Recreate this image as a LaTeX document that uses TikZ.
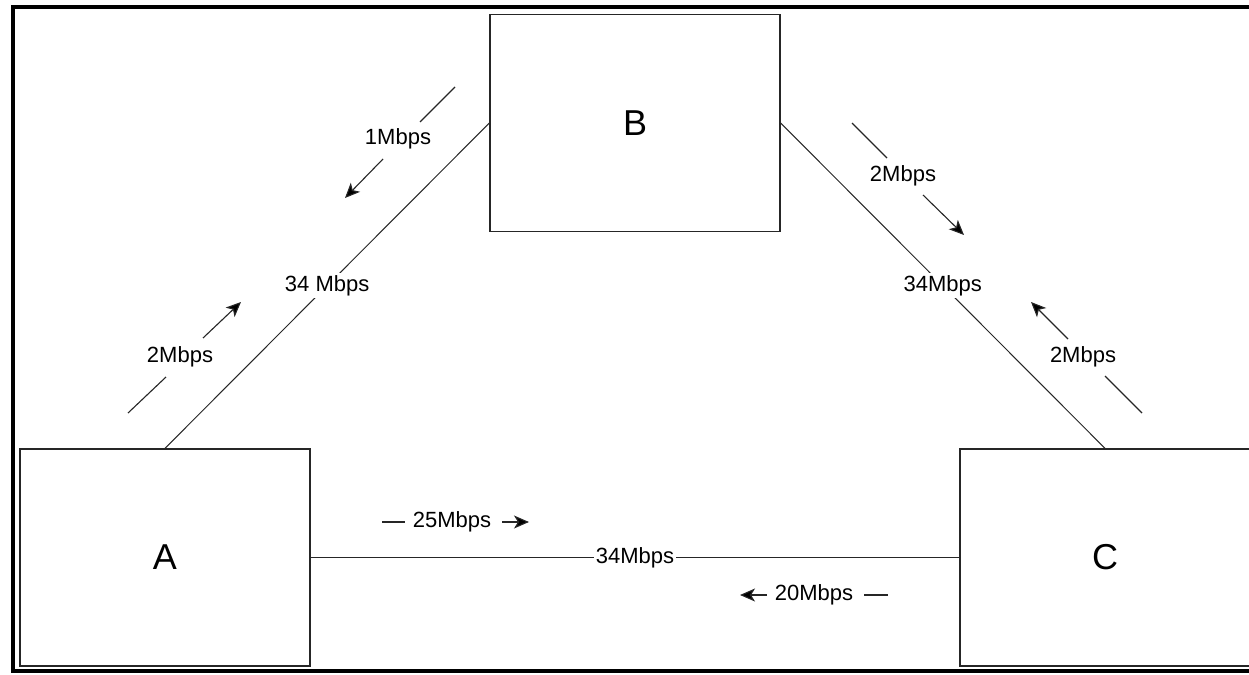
\documentclass[tikz,border=0pt]{standalone}
\usepackage{fontspec}
\setmainfont{Liberation Sans}
\usetikzlibrary{arrows.meta}
\begin{document}
\begin{tikzpicture}[x=1pt,y=-1pt,
  box/.style={draw=black!85,line width=1.3pt,minimum width=290pt,minimum height=217pt,inner sep=0pt,font=\fontsize{36}{40}\selectfont},
  link/.style={draw=black!85,line width=1pt},
  lbl/.style={fill=white,inner sep=2pt,font=\fontsize{22}{24}\selectfont},
  txt/.style={font=\fontsize{22}{24}\selectfont},
  flow/.style={draw=black!85,line width=1.1pt},
  flowarr/.style={flow,arrows={-Stealth[length=15pt,width=13pt,inset=4pt,fill=black]}}]
\useasboundingbox (0,0) rectangle (1249,674);
% frame
\draw[line width=4pt] (1260,7) -- (13,7) -- (13,671) -- (1260,671);
% boxes
\node[box] (B) at (635,123) {B};
\node[box] (A) at (165,557.5) {A};
\node[box] (C) at (1105,557.5) {C};
% links
\draw[link] (A.north) -- node[lbl] (lab) {34 Mbps} (B.west);
\draw[link] (B.east) -- node[lbl] (lbc) {34Mbps} (C.north);
\draw[link] (A.east) -- node[lbl] (lac) {34Mbps} (C.west);
% flow 1Mbps (B to A)
\coordinate (f1a) at (455,87); \coordinate (f1b) at (420,122);
\coordinate (f1c) at (383,159); \coordinate (f1d) at (345,198);
\node[txt] (t1) at (398,139) {1Mbps};
\draw[flow] (f1a) -- (f1b);
\draw[flowarr] (f1c) -- (f1d);
% flow 2Mbps (A to B)
\coordinate (f2a) at (128,413); \coordinate (f2b) at (166,377);
\coordinate (f2c) at (203,338); \coordinate (f2d) at (241,302);
\node[txt] (t2) at (180,357) {2Mbps};
\draw[flow] (f2a) -- (f2b);
\draw[flowarr] (f2c) -- (f2d);
% flow 2Mbps (B to C)
\coordinate (f3a) at (852,123); \coordinate (f3b) at (887,158);
\coordinate (f3c) at (923,195); \coordinate (f3d) at (964,235);
\node[txt] (t3) at (903,176) {2Mbps};
\draw[flow] (f3a) -- (f3b);
\draw[flowarr] (f3c) -- (f3d);
% flow 2Mbps (C to B)
\coordinate (f4a) at (1142,413); \coordinate (f4b) at (1105,376);
\coordinate (f4c) at (1068,339); \coordinate (f4d) at (1031,302);
\node[txt] (t4) at (1083,357) {2Mbps};
\draw[flow] (f4a) -- (f4b);
\draw[flowarr] (f4c) -- (f4d);
% flow 25Mbps (A to C)
\coordinate (f5a) at (382,522); \coordinate (f5b) at (405,522);
\coordinate (f5c) at (502,522); \coordinate (f5d) at (529,522);
\node[txt] (t5) at (452,522) {25Mbps};
\draw[flow] (f5a) -- (f5b);
\draw[flowarr] (f5c) -- (f5d);
% flow 20Mbps (C to A)
\coordinate (f6a) at (888,595); \coordinate (f6b) at (864,595);
\coordinate (f6c) at (767,595); \coordinate (f6d) at (740,595);
\node[txt] (t6) at (814,595) {20Mbps};
\draw[flow] (f6a) -- (f6b);
\draw[flowarr] (f6c) -- (f6d);
\end{tikzpicture}
\end{document}
